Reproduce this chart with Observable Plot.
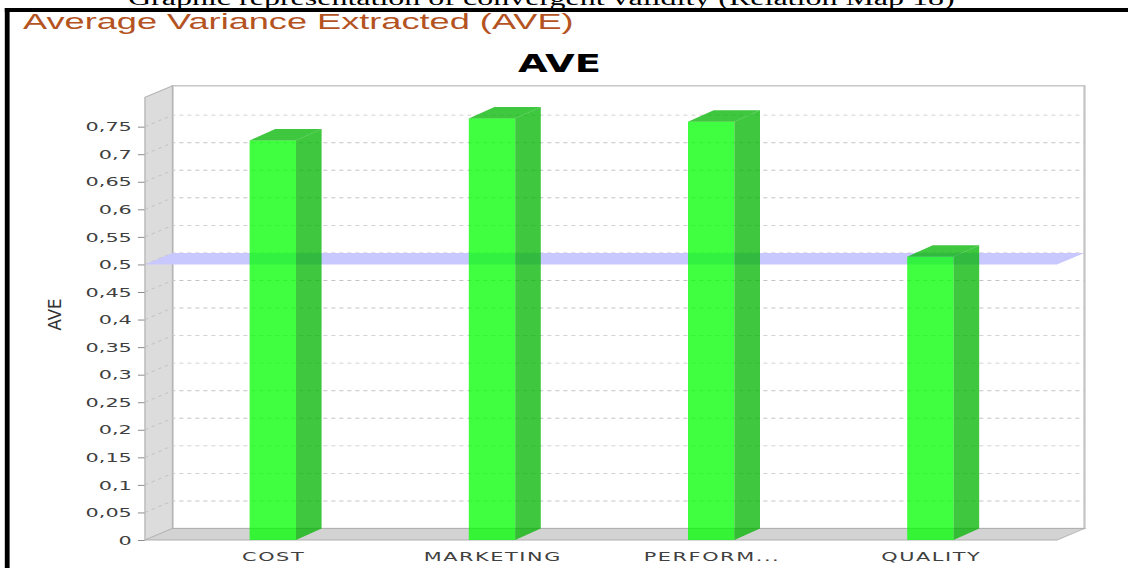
<!DOCTYPE html>
<html>
<head>
<meta charset="utf-8">
<script src="https://cdn.jsdelivr.net/npm/d3@7"></script>
<script src="https://cdn.jsdelivr.net/npm/@observablehq/plot@0.6"></script>
<style>
  html, body { margin: 0; padding: 0; background: #fff; overflow: hidden; }
  /* the report image is laid out at 705px and widened 1.6x */
  #page { position: relative; width: 705px; height: 568px; overflow: hidden;
          transform: scaleX(1.6); transform-origin: 0 0; background: #fff; }
  .caption { position: absolute; left: 80px; top: -11.75px; font: 20px/1 "Liberation Serif", serif;
             color: #000; white-space: nowrap; }
  .rule-top { position: absolute; left: 2.5px; right: 0; top: 8.3px; height: 3.4px; background: #000; }
  .rule-left { position: absolute; left: 2.5px; width: 3.1px; top: 8.3px; bottom: 0; background: #000; }
  .header { position: absolute; left: 14.4px; top: 11px; font: 22.6px/1 "Liberation Sans", sans-serif;
            color: #b4531f; white-space: nowrap; }
  .title { position: absolute; left: 349.7px; top: 52px; transform: translateX(-50%);
           font: bold 24px/1 "DejaVu Sans", sans-serif; color: #000; white-space: nowrap; }
  #chart { position: absolute; left: 0; top: 80px; }
  #chart [aria-label^="x-axis"] text { letter-spacing: 1px; }
  #chart [aria-label^="y-axis"] line, #chart [aria-label^="y-axis"] path { stroke: #8c8c8c; }
</style>
</head>
<body>
<div id="page">
  <div class="caption">Graphic representation of convergent validity (Relation Map 18)</div>
  <div class="rule-top"></div>
  <div class="rule-left"></div>
  <div class="header">Average Variance Extracted (AVE)</div>
  <div class="title">AVE</div>
  <div id="chart"></div>
</div>
<script>
// Constructs and their average variance extracted
const categories = ["COST", "MARKETING", "PERFORMANCE", "QUALITY"];
const tickLabels = ["COST", "MARKETING", "PERFORM...", "QUALITY"];
const aveValues = [0.725, 0.765, 0.759, 0.514];
const yTicks = [0, 0.05, 0.1, 0.15, 0.2, 0.25, 0.3, 0.35, 0.4, 0.45, 0.5, 0.55, 0.6, 0.65, 0.7, 0.75];
const threshold = 0.5;
const yLabel = "AVE";

const data = categories.map((c, i) => ({category: c, ave: aveValues[i]}));
const labelOf = new Map(categories.map((c, i) => [c, tickLabels[i]]));

const W = 705, H = 488;
const margin = {top: 17.3, right: 44.4, bottom: 28, left: 90.6};
const wallDepth = {dx: 17.2, dy: 11.5};
const barDepth = {dx: 16, dy: 11.5};
const yMax = d3.max(aveValues) * 1.05; // 5% headroom above the tallest bar

function poly(g, pts) {
  return g.append("path").attr("d", "M" + pts.map(p => p.join(",")).join("L") + "Z");
}

// back plane, left wall, floor and dashed gridlines of the 3D box
function walls(index, scales, values, dim) {
  const y = scales.y;
  const {dx, dy} = wallDepth;
  const x0 = dim.marginLeft, x1 = dim.width - dim.marginRight;
  const yb = y(0), yt = y(yMax);
  const g = d3.create("svg:g");
  g.append("rect")
    .attr("x", x0 + dx).attr("y", yt - dy)
    .attr("width", x1 - x0).attr("height", yb - yt)
    .attr("fill", "#fff").attr("stroke", "#c4c4c4").attr("stroke-width", 1.4);
  poly(g, [[x0, yb], [x0, yt], [x0 + dx, yt - dy], [x0 + dx, yb - dy]])
    .attr("fill", "#dcdcdc").attr("stroke", "#b4b4b4").attr("stroke-width", 0.8);
  poly(g, [[x0, yb], [x1, yb], [x1 + dx, yb - dy], [x0 + dx, yb - dy]])
    .attr("fill", "#d3d3d3").attr("stroke", "#b0b0b0").attr("stroke-width", 0.8);
  for (const v of yTicks) {
    if (v === 0) continue;
    const yy = y(v);
    g.append("path")
      .attr("d", `M${x0},${yy}L${x0 + dx},${yy - dy}L${x1 + dx},${yy - dy}`)
      .attr("fill", "none").attr("stroke", "#c4c4c4").attr("stroke-width", 0.9)
      .attr("stroke-dasharray", "2.5,2.5");
  }
  return g.node();
}

// translucent plane marking the 0.5 threshold
function thresholdPlane(index, scales, values, dim) {
  const {dx, dy} = wallDepth;
  const x0 = dim.marginLeft, x1 = dim.width - dim.marginRight;
  const yy = scales.y(threshold);
  const g = d3.create("svg:g");
  poly(g, [[x0, yy], [x1, yy], [x1 + dx, yy - dy], [x0 + dx, yy - dy]]).attr("fill", "#c8c8ff");
  return g.node();
}

// side and top faces of each bar
function barFaces(index, scales) {
  const {x, y} = scales;
  const {dx, dy} = barDepth;
  const bw = x.bandwidth();
  const g = d3.create("svg:g").attr("fill", "#00b400").attr("fill-opacity", 0.75);
  for (const d of data) {
    const xl = x(d.category), xr = xl + bw, yv = y(d.ave), yb = y(0);
    poly(g, [[xr, yv], [xr + dx, yv - dy], [xr + dx, yb - dy], [xr, yb]]);
    poly(g, [[xl, yv], [xr, yv], [xr + dx, yv - dy], [xl + dx, yv - dy]]);
  }
  return g.node();
}

const chart = Plot.plot({
  width: W,
  height: H,
  marginTop: margin.top,
  marginRight: margin.right,
  marginBottom: margin.bottom,
  marginLeft: margin.left,
  style: {fontFamily: "DejaVu Sans", fontSize: "13px", color: "#404040", background: "transparent", overflow: "visible"},
  x: {
    domain: categories,
    range: [100.55, 651.35],
    paddingInner: 0.79,
    paddingOuter: 0.395,
    tickSize: 0,
    tickPadding: 10.8,
    tickFormat: d => labelOf.get(d),
    label: null
  },
  y: {
    domain: [0, yMax],
    ticks: yTicks,
    tickFormat: d => String(d).replace(".", ","),
    tickSize: 4.4,
    tickPadding: 4.3,
    label: null
  },
  marks: [
    walls,
    thresholdPlane,
    Plot.barY(data, {x: "category", y: "ave", fill: "#00ff00", fillOpacity: 0.75}),
    barFaces,
    // rotated axis title, reading upward from its start point
    Plot.text([yLabel], {text: d => d, frameAnchor: "left", textAnchor: "start", dx: -56.6, dy: 11.4,
                         rotate: -90, fontSize: 10.5, fill: "#333"})
  ]
});

// the rotated axis title is drawn taller than its font size
for (const t of chart.querySelectorAll("text")) {
  if (t.textContent === yLabel && /rotate/.test(t.getAttribute("transform") || "")) {
    t.setAttribute("textLength", 32);
    t.setAttribute("lengthAdjust", "spacingAndGlyphs");
  }
}

document.getElementById("chart").appendChild(chart);
</script>
</body>
</html>
